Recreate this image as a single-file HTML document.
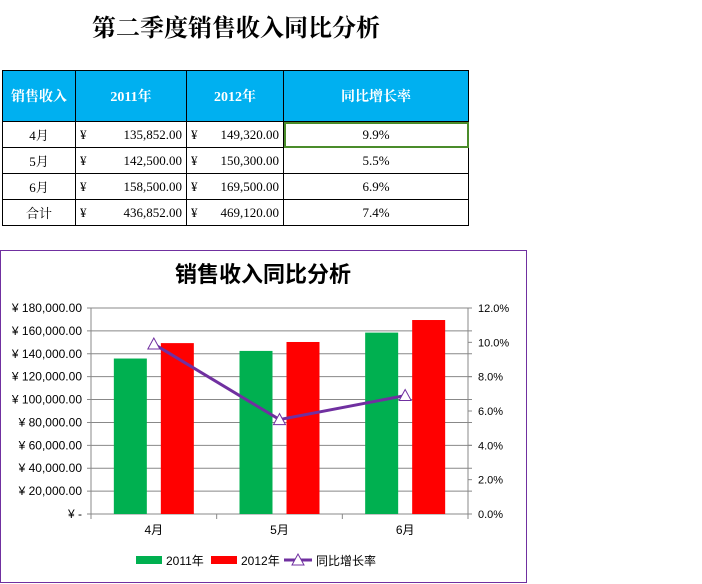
<!DOCTYPE html>
<html><head><meta charset="utf-8"><style>
body{margin:0;width:702px;height:584px;background:#fff;font-family:"Liberation Sans","Noto Sans CJK SC",sans-serif;position:relative;overflow:hidden}
#title{position:absolute;left:0;width:472px;top:8px;text-align:center;font-size:24px;font-family:"Liberation Serif","Noto Serif CJK SC",serif;font-weight:bold}
table{position:absolute;left:2px;top:70px;border-collapse:collapse;font-size:13px;font-family:"Liberation Serif","Noto Serif CJK SC",serif}
td,th{border:1px solid #000;padding:0 4px}
th{background:#00b0f0;color:#fff;height:50px;font-weight:bold;font-size:14px}
td{height:25px}
.c{text-align:center}.m{display:flex;justify-content:space-between}
#chart{position:absolute;left:0;top:250px}
</style></head><body>
<div id="title">第二季度销售收入同比分析</div>
<table>
<tr><th style="width:64px">销售收入</th><th style="width:102px">2011年</th><th style="width:88px">2012年</th><th style="width:176px">同比增长率</th></tr>
<tr><td class="c">4月</td><td><div class="m"><span>¥</span><span>135,852.00</span></div></td><td><div class="m"><span>¥</span><span>149,320.00</span></div></td><td class="c" style="outline:2px solid #4a8c2a;outline-offset:-2px">9.9%</td></tr>
<tr><td class="c">5月</td><td><div class="m"><span>¥</span><span>142,500.00</span></div></td><td><div class="m"><span>¥</span><span>150,300.00</span></div></td><td class="c">5.5%</td></tr>
<tr><td class="c">6月</td><td><div class="m"><span>¥</span><span>158,500.00</span></div></td><td><div class="m"><span>¥</span><span>169,500.00</span></div></td><td class="c">6.9%</td></tr>
<tr><td class="c">合计</td><td><div class="m"><span>¥</span><span>436,852.00</span></div></td><td><div class="m"><span>¥</span><span>469,120.00</span></div></td><td class="c">7.4%</td></tr>
</table>
<svg id="chart" width="528" height="334" font-family="Liberation Sans, Noto Sans CJK SC, sans-serif"></svg>
<script>
const categories=["4月","5月","6月"];
const sales2011=[135852,142500,158500];
const sales2012=[149320,150300,169500];
const growth=[9.9,5.5,6.9];
const leftTicks=[0,20000,40000,60000,80000,100000,120000,140000,160000,180000];
const rightTicks=[0,2,4,6,8,10,12];
const svg=document.getElementById('chart');const NS='http://www.w3.org/2000/svg';
function mk(t,a,p){const e=document.createElementNS(NS,t);for(const k in a)e.setAttribute(k,a[k]);(p||svg).appendChild(e);return e;}
const X0=91,X1=468,Y0=264,Y1=58;
const yL=v=>Y0-(v/180000)*(Y0-Y1);
const yR=v=>Y0-(v/12)*(Y0-Y1);
const cw=(X1-X0)/categories.length;
const xc=i=>X0+cw*(i+0.5);
const fmt=v=>v===0?'¥ -':'¥ '+v.toLocaleString('en-US',{minimumFractionDigits:2});
let e=mk('rect',{x:0.5,y:0.5,width:526,height:332,fill:'#fff',stroke:'#7030a0'});

e=mk('text',{x:263,y:32,'text-anchor':'middle','font-size':22,'font-weight':'bold',fill:'#000'});e.textContent='销售收入同比分析';

leftTicks.forEach(v=>{const y=yL(v);
 e=mk('line',{x1:X0-4,x2:X1+4,y1:y,y2:y,stroke:'#888'});
 e=mk('text',{x:82,y:y+4,'text-anchor':'end','font-size':12,fill:'#000'});e.textContent=fmt(v);
 });
rightTicks.forEach(v=>{const y=yR(v);
 mk('line',{x1:X1,x2:X1+4,y1:y,y2:y,stroke:'#888'});
 e=mk('text',{x:478,y:y+4,'font-size':11,fill:'#000'});e.textContent=v.toFixed(1)+'%';
 });
mk('line',{x1:X0,x2:X0,y1:Y1,y2:Y0,stroke:'#888'});mk('line',{x1:X1,x2:X1,y1:Y1,y2:Y0,stroke:'#888'});
for(let i=0;i<=categories.length;i++)mk('line',{x1:X0+cw*i,x2:X0+cw*i,y1:Y0,y2:Y0+5,stroke:'#888'});
categories.forEach((c,i)=>{
 e=mk('rect',{x:xc(i)-40,y:yL(sales2011[i]),width:33,height:Y0-yL(sales2011[i]),fill:'#00b050'});
 
 e=mk('rect',{x:xc(i)+7,y:yL(sales2012[i]),width:33,height:Y0-yL(sales2012[i]),fill:'#ff0000'});
 
 e=mk('text',{x:xc(i),y:Y0+20,'text-anchor':'middle','font-size':12,fill:'#000'});e.textContent=c;
 });
e=mk('polyline',{points:growth.map((g,i)=>xc(i)+','+yR(g)).join(' '),fill:'none',stroke:'#7030a0','stroke-width':3});

growth.forEach((g,i)=>{const x=xc(i),y=yR(g);
 e=mk('polygon',{points:`${x},${y-6} ${x-6},${y+5} ${x+6},${y+5}`,fill:'#fff',stroke:'#7030a0','stroke-width':1});
 });
// legend
e=mk('g',{});
mk('rect',{x:136,y:306,width:26,height:8,fill:'#00b050'},e);
let t=mk('text',{x:166,y:315,'font-size':12},e);t.textContent='2011年';
mk('rect',{x:211,y:306,width:26,height:8,fill:'#ff0000'},e);
t=mk('text',{x:241,y:315,'font-size':12},e);t.textContent='2012年';
mk('line',{x1:284,x2:312,y1:310,y2:310,stroke:'#7030a0','stroke-width':3},e);
mk('polygon',{points:'298,304 292,315 304,315',fill:'#fff',stroke:'#7030a0'},e);
t=mk('text',{x:316,y:315,'font-size':12},e);t.textContent='同比增长率';
</script>
</body></html>
